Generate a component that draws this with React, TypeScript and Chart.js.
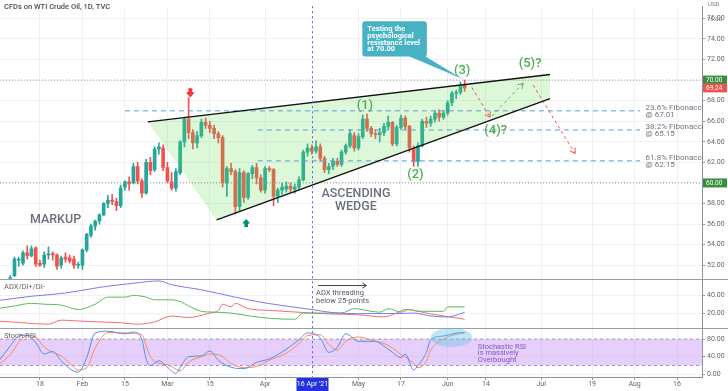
import React, { useEffect, useRef } from 'react';
import { Chart, registerables } from 'chart.js';

Chart.register(...registerables);

// ---------------- data ----------------
const FIRST_BAR = 3; // bar index of first candle (weekday count from 4 Jan 2021)
const opens = [50.6, 51.0, 52.5, 52.2, 53.2, 52.9, 53.7, 52.2, 52.1, 53.0, 53.1, 53.0, 52.0, 52.8, 52.7, 52.6, 52.0, 52.0, 53.5, 54.9, 55.8, 56.3, 56.9, 58.0, 58.3, 58.2, 57.8, 59.6, 60.1, 60.0, 61.6, 60.2, 59.0, 62.0, 61.3, 63.3, 63.4, 61.5, 60.1, 59.5, 61.0, 64.0, 66.2, 64.9, 63.9, 64.6, 65.9, 65.6, 65.3, 64.8, 64.4, 60.0, 61.4, 61.1, 57.7, 61.0, 58.6, 60.9, 61.5, 60.5, 59.3, 61.4, 61.3, 58.7, 59.3, 59.4, 59.7, 59.4, 59.6, 60.3, 63.0, 63.4, 63.1, 63.5, 62.4, 61.3, 61.6, 62.1, 61.8, 63.0, 63.6, 64.6, 63.4, 64.5, 66.2, 65.3, 64.8, 64.7, 64.9, 65.5, 65.9, 63.8, 65.4, 66.3, 65.5, 63.4, 62.1, 63.6, 66.0, 65.8, 66.2, 66.8, 66.4, 66.8, 67.8, 68.7, 68.8, 69.5];
const highs = [51.0, 52.8, 52.8, 53.4, 53.9, 53.9, 53.8, 52.5, 53.3, 53.8, 53.3, 53.1, 52.9, 53.2, 53.0, 52.9, 52.3, 53.6, 55.1, 56.0, 56.4, 57.0, 58.1, 58.8, 58.9, 58.5, 59.8, 60.2, 60.6, 61.9, 62.0, 60.4, 62.3, 62.5, 63.5, 63.9, 63.7, 62.0, 61.0, 61.4, 64.1, 66.4, 68.3, 65.2, 65.0, 66.2, 66.3, 66.0, 65.6, 65.0, 64.6, 61.6, 61.9, 61.3, 61.4, 61.2, 61.0, 61.7, 61.9, 60.8, 61.6, 61.6, 61.4, 59.5, 60.0, 60.1, 60.0, 59.9, 60.6, 63.2, 63.8, 63.7, 64.1, 63.8, 62.6, 61.9, 62.4, 62.4, 63.2, 63.8, 65.2, 64.9, 64.8, 66.6, 66.7, 65.5, 65.2, 65.3, 65.8, 66.5, 66.0, 65.6, 66.6, 66.5, 65.6, 63.6, 63.9, 66.2, 66.4, 66.5, 67.0, 67.1, 67.0, 68.0, 68.9, 69.0, 69.8, 70.0];
const lows = [50.5, 50.9, 51.9, 52.0, 52.6, 52.8, 51.9, 51.9, 51.8, 52.6, 52.5, 51.6, 51.7, 52.3, 52.2, 51.7, 51.7, 51.6, 53.3, 54.7, 55.4, 56.0, 56.8, 57.6, 57.9, 57.3, 57.6, 59.3, 59.3, 59.9, 59.9, 58.6, 58.9, 60.8, 61.1, 62.8, 61.2, 60.0, 59.3, 59.2, 60.8, 63.5, 64.3, 63.3, 63.4, 64.4, 65.3, 64.9, 64.3, 63.9, 59.6, 58.7, 60.8, 57.0, 57.2, 58.1, 58.4, 60.4, 59.9, 59.1, 59.0, 61.1, 57.8, 58.1, 58.9, 59.1, 59.1, 59.0, 59.4, 60.2, 62.6, 62.8, 62.9, 62.1, 61.0, 60.9, 61.3, 61.6, 61.6, 62.8, 63.4, 63.1, 63.2, 64.3, 65.0, 64.5, 64.3, 64.0, 64.6, 65.2, 63.6, 63.6, 65.2, 65.2, 63.0, 61.6, 61.6, 63.5, 65.4, 65.5, 65.9, 66.0, 66.2, 66.6, 67.5, 68.2, 68.6, 68.9];
const closes = [50.8, 52.6, 52.6, 53.2, 52.9, 53.6, 52.1, 52.0, 53.0, 53.1, 53.0, 51.9, 52.7, 52.6, 52.4, 52.0, 52.1, 53.5, 55.0, 55.8, 56.3, 56.9, 58.0, 58.3, 58.2, 57.8, 59.5, 60.1, 59.9, 61.6, 60.2, 59.0, 62.0, 61.2, 63.3, 63.5, 61.5, 60.2, 59.5, 61.1, 64.0, 66.2, 64.9, 63.9, 64.6, 65.9, 65.6, 65.3, 64.8, 64.4, 60.0, 61.4, 61.1, 57.7, 61.0, 58.6, 60.9, 61.5, 60.5, 59.3, 61.4, 61.3, 58.7, 59.3, 59.6, 59.7, 59.4, 59.6, 60.3, 63.0, 63.4, 63.1, 63.5, 62.4, 61.3, 61.6, 62.1, 61.8, 63.0, 63.6, 64.8, 63.4, 64.5, 66.2, 65.3, 64.8, 64.7, 64.9, 65.5, 65.9, 63.8, 65.4, 66.3, 65.5, 63.4, 62.1, 63.6, 66.0, 65.8, 66.2, 66.8, 66.4, 66.8, 67.8, 68.7, 68.8, 69.5, 69.24];

// x axis
const X_MIN = 0.59;
const X_MAX = 165.88;
const xTicks = [10, 20, 30, 40, 50, 63, 85, 95, 106, 115, 128, 140, 150, 160];
const xTickLabels = ['18', 'Feb', '15', 'Mar', '15', 'Apr', 'May', '17', 'Jun', '14', 'Jul', '19', 'Aug', '16'];
const vLineIdx = 74;
const vLineLabel = "16 Apr '21";

// wedge
const wedgeUpperX = [35.4, 130.1];
const wedgeUpperY = [65.93, 70.54];
const wedgeLowerX = [51.6, 130.1];
const wedgeLowerY = [56.41, 68.19];

// fibonacci levels
const fibLevels = [67.01, 65.15, 62.15];
const fibNames = ['23.6% Fibonacci', '38.2% Fibonacci', '61.8% Fibonacci'];
const fibStart = [30.0, 61.3, 61.3];
const fibEnd = 151.3;
const fibLabelIdx = 152.6;
const keyLevels = [70, 60];
const lastPrice = 69.24;

// projected path
const projRed1X = [111.7, 116.0];
const projRed1Y = [69.27, 66.38];
const projGreenX = [116.4, 123.8];
const projGreenY = [66.5, 69.69];
const projRed2X = [126.1, 136.0];
const projRed2Y = [69.52, 62.86];

// ADX / DI
const adxIdx = [0, 8, 16, 24, 32, 38, 41, 48, 55, 63, 74, 79, 85, 95, 98, 102, 106, 110];
const adxVal = [34, 39, 42.6, 49, 53.7, 56.3, 52, 46.3, 39, 31.4, 24, 20.4, 19.3, 19.5, 20, 16.7, 15.6, 20.8];
const diPlusIdx = [0, 4, 8, 11, 15, 19, 23, 26, 30, 32, 35, 37, 41, 43, 45, 48, 51, 55, 59, 64, 70, 72, 76, 81, 84, 88, 90, 92, 95, 97, 99, 105, 106, 110];
const diPlusVal = [25, 28, 31, 30, 29, 24, 30, 38, 38, 40, 38, 35, 35, 33, 28, 22, 21, 20, 17, 14, 13, 20, 20, 20, 25, 22, 21, 25, 21, 24, 22, 22, 27, 27];
const diMinusIdx = [0, 6, 12, 15, 19, 24, 29, 33, 37, 41, 45, 50, 52, 53, 55, 56, 59, 64, 69, 74, 78, 85, 91, 94, 96, 102, 110];
const diMinusVal = [11, 9, 7.4, 12, 11, 10, 9, 7.4, 10, 16.7, 15, 20, 23, 30, 27, 31, 25, 23, 21.5, 20, 19, 18, 15.6, 20, 24, 19, 13];

// Stoch RSI
const kIdx = [0, 3, 5, 7, 9, 11, 13, 15, 17, 19, 21, 23, 26, 30, 32, 34, 35, 36, 38, 40, 42, 43, 45, 48, 50, 52, 55, 58, 61, 64, 68, 71, 73, 76, 78, 80, 82, 85, 89, 91, 93, 95, 96, 98, 99, 101, 102, 105, 108, 110];
const kVal = [27, 64, 87, 89, 72, 46, 52, 31, 13, 5, 38, 94, 98, 92, 96, 79, 35, 20, 31, 16, 2, 16, 40, 42, 53, 32, 16, 13, 27, 35, 57, 79, 94, 83, 50, 61, 92, 75, 75, 64, 50, 38, 46, 10, 20, 50, 79, 87, 94, 95];
const dVal = [20, 45, 72, 88, 85, 62, 50, 42, 25, 10, 15, 60, 95, 94, 93, 90, 65, 40, 25, 22, 12, 8, 28, 40, 46, 45, 25, 15, 18, 32, 48, 70, 88, 90, 68, 55, 75, 85, 75, 70, 60, 45, 40, 25, 15, 30, 55, 80, 91, 94];
const stochBand = [80, 20];

// annotations (data coordinates)
const waveLabels = [
  { text: '(1)', i: 86.5, p: 67.46 },
  { text: '(2)', i: 98.4, p: 60.76 },
  { text: '(3)', i: 109.4, p: 70.92 },
  { text: '(4)?', i: 117.3, p: 65.08 },
  { text: '(5)?', i: 125.4, p: 71.62 },
];

const FONT = 'Roboto, "Open Sans", "DejaVu Sans", sans-serif';

function pts(xs: number[], ys: number[]) {
  return xs.map((x, k) => ({ x, y: ys[k] }));
}

function arrowHead(c: any, x1: number, y1: number, x2: number, y2: number, size: number, color: string) {
  const a = Math.atan2(y2 - y1, x2 - x1);
  c.save();
  c.setLineDash([]);
  c.strokeStyle = color;
  c.lineWidth = 1;
  c.beginPath();
  c.moveTo(x2 - size * Math.cos(a - 0.55), y2 - size * Math.sin(a - 0.55));
  c.lineTo(x2, y2);
  c.lineTo(x2 - size * Math.cos(a + 0.55), y2 - size * Math.sin(a + 0.55));
  c.stroke();
  c.restore();
}

function blockArrow(c: any, cx: number, yTail: number, yTip: number, w: number, color: string) {
  const dir = yTip > yTail ? 1 : -1;
  const headLen = Math.abs(yTip - yTail) * 0.55;
  const yNeck = yTip - dir * headLen;
  const sw = w * 0.45;
  c.save();
  c.fillStyle = color;
  c.beginPath();
  c.moveTo(cx - sw / 2, yTail);
  c.lineTo(cx + sw / 2, yTail);
  c.lineTo(cx + sw / 2, yNeck);
  c.lineTo(cx + w / 2, yNeck);
  c.lineTo(cx, yTip);
  c.lineTo(cx - w / 2, yNeck);
  c.lineTo(cx - sw / 2, yNeck);
  c.closePath();
  c.fill();
  c.restore();
}

const overlay = {
  id: 'overlay',
  afterDatasetDraw(chart: any, args: any) {
    if (args.index !== 0) return;
    const c = chart.ctx;
    const x = chart.scales.x;
    const y = chart.scales.y;
    c.save();
    c.beginPath();
    c.moveTo(x.getPixelForValue(wedgeUpperX[0]), y.getPixelForValue(wedgeUpperY[0]));
    c.lineTo(x.getPixelForValue(wedgeUpperX[1]), y.getPixelForValue(wedgeUpperY[1]));
    c.lineTo(x.getPixelForValue(wedgeLowerX[1]), y.getPixelForValue(wedgeLowerY[1]));
    c.lineTo(x.getPixelForValue(wedgeLowerX[0]), y.getPixelForValue(wedgeLowerY[0]));
    c.closePath();
    c.fillStyle = 'rgba(100,220,80,0.22)';
    c.fill();
    c.restore();
  },
  afterDraw(chart: any) {
    const c = chart.ctx;
    const area = chart.chartArea;
    const x = chart.scales.x;
    const y = chart.scales.y;
    const ya = chart.scales.ya;
    const ys = chart.scales.ys;
    const W = chart.width;
    c.save();

    // pane separators
    c.strokeStyle = '#9a9da6';
    c.lineWidth = 1;
    [ya.top, ys.top].forEach((t: number) => {
      c.beginPath();
      c.moveTo(0, Math.round(t) + 0.5);
      c.lineTo(W, Math.round(t) + 0.5);
      c.stroke();
    });

    // vertical crosshair line
    const vx = Math.round(x.getPixelForValue(vLineIdx)) + 0.5;
    c.strokeStyle = '#5c62d6';
    c.setLineDash([2, 3]);
    c.beginPath();
    c.moveTo(vx, area.top);
    c.lineTo(vx, area.bottom);
    c.stroke();
    c.setLineDash([]);

    // title & pane labels
    c.textBaseline = 'middle';
    c.textAlign = 'left';
    c.fillStyle = '#4a4d55';
    c.font = `500 7.5px ${FONT}`;
    c.fillText('CFDs on WTI Crude Oil, 1D, TVC', 4, 7);
    c.fillStyle = '#666';
    c.font = `7.5px ${FONT}`;
    c.fillText('ADX/DI+/DI-', 4, ya.top + 8);
    c.fillText('Stoch RSI', 4, ys.top + 8);

    // wave labels
    c.textAlign = 'center';
    c.fillStyle = '#4caf50';
    c.font = `500 13px ${FONT}`;
    waveLabels.forEach((w) => c.fillText(w.text, x.getPixelForValue(w.i), y.getPixelForValue(w.p)));

    // big labels
    c.fillStyle = '#6b707e';
    c.font = `500 12.5px ${FONT}`;
    c.fillText('MARKUP', x.getPixelForValue(13.66), y.getPixelForValue(56.38));
    c.fillText('ASCENDING', x.getPixelForValue(84.4), y.getPixelForValue(58.92));
    c.fillText('WEDGE', x.getPixelForValue(84.4), y.getPixelForValue(57.67));

    // block arrows
    blockArrow(c, x.getPixelForValue(45.4), y.getPixelForValue(69.21), y.getPixelForValue(68.31), 9, '#f03a3a');
    blockArrow(c, x.getPixelForValue(58.55), y.getPixelForValue(55.71), y.getPixelForValue(56.5), 8, '#00897b');

    // callout
    const bl = x.getPixelForValue(85.9);
    const br = x.getPixelForValue(101.1);
    const bt = y.getPixelForValue(75.71);
    const bb = y.getPixelForValue(72.29);
    c.fillStyle = '#47b2c3';
    c.beginPath();
    c.moveTo(bl + 3, bt);
    c.lineTo(br - 3, bt);
    c.quadraticCurveTo(br, bt, br, bt + 3);
    c.lineTo(br, bb - 3);
    c.quadraticCurveTo(br, bb, br - 3, bb);
    c.lineTo(bl + 3, bb);
    c.quadraticCurveTo(bl, bb, bl, bb - 3);
    c.lineTo(bl, bt + 3);
    c.quadraticCurveTo(bl, bt, bl + 3, bt);
    c.closePath();
    c.fill();
    c.beginPath();
    c.moveTo(x.getPixelForValue(96.5), bb - 1);
    c.lineTo(x.getPixelForValue(100.4), bb - 1);
    c.lineTo(x.getPixelForValue(109.5), y.getPixelForValue(70.1));
    c.closePath();
    c.fill();
    c.fillStyle = '#ffffff';
    c.textAlign = 'left';
    c.font = `bold 7.5px ${FONT}`;
    const lines = ['Testing the', 'psychological', 'resistance level', 'at 70.00'];
    lines.forEach((t, k) => c.fillText(t, bl + 5, bt + 8 + k * 6.7));

    // fibonacci labels
    c.fillStyle = '#707480';
    c.font = `8px ${FONT}`;
    fibLevels.forEach((lv, k) => {
      const ly = y.getPixelForValue(lv);
      const lx = x.getPixelForValue(fibLabelIdx);
      c.fillText(fibNames[k], lx, ly - 2.5);
      c.fillText('@ ' + lv.toFixed(2), lx, ly + 4);
    });

    // projection arrowheads
    [11, 12, 13].forEach((di) => {
      const m = chart.getDatasetMeta(di).data;
      const p1 = m[m.length - 2];
      const p2 = m[m.length - 1];
      arrowHead(c, p1.x, p1.y, p2.x, p2.y, 6, di === 12 ? '#5cb85c' : '#ef5350');
    });

    // ADX note
    c.fillStyle = '#555a66';
    c.font = `7.5px ${FONT}`;
    c.fillText('ADX threading', x.getPixelForValue(75.0), ya.getPixelForValue(42.2));
    c.fillText('below 25-points', x.getPixelForValue(75.0), ya.getPixelForValue(33.9));
    const ax1 = x.getPixelForValue(75.5);
    const ax2 = x.getPixelForValue(86.9);
    const ay = ya.getPixelForValue(51.1);
    c.strokeStyle = '#444';
    c.lineWidth = 1;
    c.beginPath();
    c.moveTo(ax1, ay);
    c.lineTo(ax2, ay);
    c.stroke();
    arrowHead(c, ax1, ay, ax2, ay, 5, '#444');

    // stoch ellipse + note
    c.fillStyle = 'rgba(90,195,225,0.38)';
    c.beginPath();
    c.ellipse(x.getPixelForValue(106.9), ys.getPixelForValue(83.8), 21, 9.5, 0, 0, Math.PI * 2);
    c.fill();
    c.fillStyle = '#7e57c2';
    c.font = `7.5px ${FONT}`;
    const sx = x.getPixelForValue(113.1);
    c.fillText('Stochastic RSI', sx, ys.getPixelForValue(62));
    c.fillText('is massively', sx, ys.getPixelForValue(47.5));
    c.fillText('Overbought', sx, ys.getPixelForValue(33));

    // axis label boxes
    const boxX = area.right + 1;
    const boxW = 24;
    const tag = (val: number, bg: string) => {
      const ty = y.getPixelForValue(val);
      c.fillStyle = bg;
      c.fillRect(boxX, ty - 4.5, boxW, 9);
      c.fillStyle = '#fff';
      c.textAlign = 'left';
      c.font = `6.5px ${FONT}`;
      c.fillText(val.toFixed(2), boxX + 3, ty + 0.5);
    };
    tag(keyLevels[0], '#388e3c');
    tag(lastPrice, '#ef5350');
    tag(keyLevels[1], '#388e3c');
    c.fillStyle = '#fff';
    c.fillRect(area.right + 2, 0, 24, 8);
    c.fillStyle = '#777';
    c.font = `6px ${FONT}`;
    c.fillText('USD', area.right + 6, 4.5);
    c.fillText('76.00', area.right + 5, y.getPixelForValue(76) + 1);

    // x crosshair label
    c.fillStyle = '#2431e0';
    c.fillRect(vx - 16, area.bottom + 1, 32, chart.height - area.bottom - 1);
    c.fillStyle = '#fff';
    c.textAlign = 'center';
    c.font = `7px ${FONT}`;
    c.fillText(vLineLabel, vx, area.bottom + 7.5);

    c.restore();
  },
};

export default function App() {
  const ref = useRef<HTMLCanvasElement>(null);
  useEffect(() => {
    document.body.style.margin = '0';
    const canvas = ref.current as HTMLCanvasElement;
    const idx = opens.map((_, k) => FIRST_BAR + k);
    const colors = opens.map((o, k) => (closes[k] >= o ? '#26a69a' : '#ef5350'));
    const bodies = idx.map((i, k) => ({ x: i, y: [opens[k], closes[k]] }));
    const wicks = idx.map((i, k) => ({ x: i, y: [lows[k], highs[k]] }));
    const line = (data: any[], color: string, extra: any = {}) => ({
      type: 'line',
      data,
      borderColor: color,
      borderWidth: 1,
      pointRadius: 0,
      fill: false,
      yAxisID: 'y',
      order: 1,
      ...extra,
    });

    const datasets: any[] = [
      // 0 bodies
      { type: 'bar', data: bodies, backgroundColor: colors, borderWidth: 0, barThickness: 3, grouped: false, minBarLength: 1, yAxisID: 'y', order: 5 },
      // 1 wicks
      { type: 'bar', data: wicks, backgroundColor: colors, borderWidth: 0, barThickness: 1, grouped: false, yAxisID: 'y', order: 6 },
      // 2,3 stoch band
      line([{ x: X_MIN, y: stochBand[0] }, { x: X_MAX, y: stochBand[0] }], '#a48fc4', { yAxisID: 'ys', borderDash: [3, 3], fill: { value: stochBand[1] }, backgroundColor: 'rgba(196,140,246,0.42)', order: 9 }),
      line([{ x: X_MIN, y: stochBand[1] }, { x: X_MAX, y: stochBand[1] }], '#a48fc4', { yAxisID: 'ys', borderDash: [3, 3], order: 9 }),
      // 4,5 wedge
      line(pts(wedgeUpperX, wedgeUpperY), '#111', { borderWidth: 1.3 }),
      line(pts(wedgeLowerX, wedgeLowerY), '#111', { borderWidth: 1.3 }),
      // 6,7,8 fibonacci
      ...fibLevels.map((lv, k) => line([{ x: fibStart[k], y: lv }, { x: fibEnd, y: lv }], '#5f9bd6', { borderDash: [5, 4], order: 2 })),
      // 9,10 key levels
      ...keyLevels.map((lv) => line([{ x: X_MIN, y: lv }, { x: X_MAX, y: lv }], '#9a9a9a', { borderDash: [1, 2], order: 2 })),
      // 11,12,13 projections
      line(pts(projRed1X, projRed1Y), '#ef5350', { borderDash: [3, 3] }),
      line(pts(projGreenX, projGreenY), '#5cb85c', { borderDash: [3, 3] }),
      line(pts(projRed2X, projRed2Y), '#ef5350', { borderDash: [3, 3] }),
      // 14-16 ADX
      line(pts(adxIdx, adxVal), '#7b7bf0', { yAxisID: 'ya', cubicInterpolationMode: 'monotone', order: 3 }),
      line(pts(diPlusIdx, diPlusVal), '#5cb85c', { yAxisID: 'ya', cubicInterpolationMode: 'monotone', order: 3 }),
      line(pts(diMinusIdx, diMinusVal), '#f07070', { yAxisID: 'ya', cubicInterpolationMode: 'monotone', order: 3 }),
      // 17,18 stoch
      line(pts(kIdx, kVal), '#4d8ff0', { yAxisID: 'ys', cubicInterpolationMode: 'monotone', order: 3 }),
      line(pts(kIdx, dVal), '#ff8a50', { yAxisID: 'ys', cubicInterpolationMode: 'monotone', order: 4 }),
    ];

    const tickFont = { size: 7, family: FONT };
    const yCommon = {
      type: 'linear',
      position: 'right',
      stack: 'panes',
      beginAtZero: false,
      offset: false,
      grid: { color: '#f0f1f5', tickLength: 3, tickColor: '#999' },
      border: { color: '#8f929b' },
      afterFit: (s: any) => { s.width = 26; },
    };

    const chart = new Chart(canvas, {
      type: 'bar',
      data: { datasets },
      plugins: [overlay],
      options: {
        responsive: false,
        animation: false,
        events: [],
        layout: { padding: 0, autoPadding: false },
        plugins: { legend: { display: false }, tooltip: { enabled: false } },
        scales: {
          x: {
            type: 'linear',
            position: 'bottom',
            min: X_MIN,
            max: X_MAX,
            offset: false,
            grid: { color: '#eef0f4', offset: false, tickLength: 3, tickColor: '#999' },
            border: { color: '#8f929b' },
            afterBuildTicks: (s: any) => { s.ticks = xTicks.map((v) => ({ value: v })); },
            ticks: {
              autoSkip: false,
              maxRotation: 0,
              padding: 0,
              font: tickFont,
              color: '#666',
              callback: (_v: any, i: number) => xTickLabels[i],
            },
            afterFit: (s: any) => { s.height = 14; },
          },
          y: {
            ...yCommon,
            stackWeight: 277,
            min: 50.7,
            max: 77.18,
            ticks: { stepSize: 2, includeBounds: false, font: tickFont, color: '#666', padding: 2, callback: (v: any) => Number(v).toFixed(2) },
          },
          ya: {
            ...yCommon,
            stackWeight: 50,
            min: 3.3,
            max: 58.9,
            ticks: { stepSize: 20, includeBounds: false, font: tickFont, color: '#666', padding: 2, callback: (v: any) => Number(v).toFixed(2) },
          },
          ys: {
            ...yCommon,
            stackWeight: 50,
            min: -6.1,
            max: 105.7,
            ticks: { stepSize: 40, includeBounds: false, font: tickFont, color: '#666', padding: 2, callback: (v: any) => Number(v).toFixed(2) },
          },
        },
      } as any,
    } as any);
    return () => chart.destroy();
  }, []);

  return (
    <div style={{ position: 'absolute', left: 0, top: 0, width: 728, height: 391, background: '#fff' }}>
      <canvas ref={ref} width={728} height={391} style={{ display: 'block' }} />
    </div>
  );
}
